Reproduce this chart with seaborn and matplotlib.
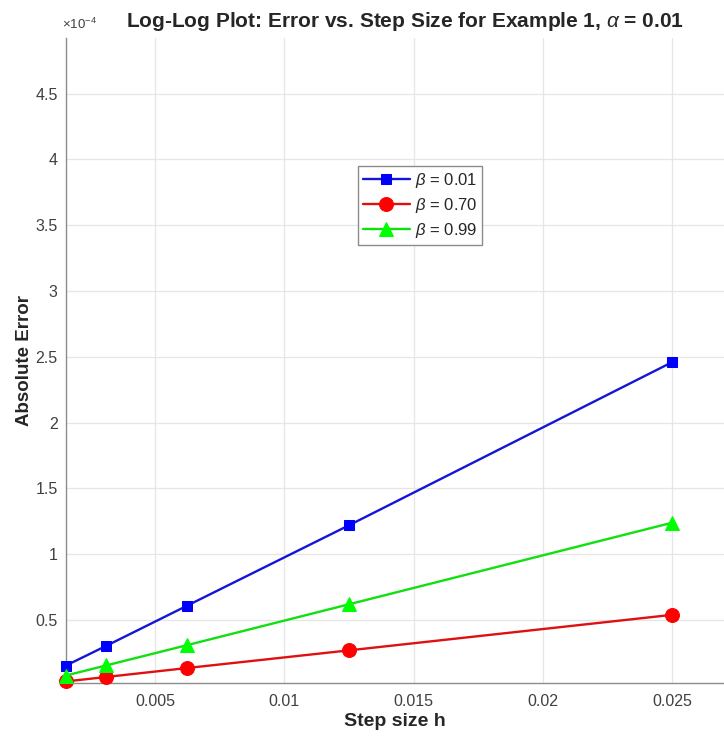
import matplotlib
matplotlib.use("Agg")
import matplotlib.pyplot as plt
import seaborn as sns
import pandas as pd
from matplotlib.ticker import FixedLocator

# ---- data ----
step_h = [0.0015625, 0.003125, 0.00625, 0.0125, 0.025]
err_beta_001 = [1.55e-5, 3.05e-5, 6.1e-5, 1.22e-4, 2.46e-4]
err_beta_070 = [3.4e-6, 6.8e-6, 1.36e-5, 2.7e-5, 5.4e-5]
err_beta_099 = [7.9e-6, 1.56e-5, 3.1e-5, 6.2e-5, 1.24e-4]
series_labels = [r"$\beta$ = 0.01", r"$\beta$ = 0.70", r"$\beta$ = 0.99"]
x_ticks = [0.005, 0.01, 0.015, 0.02, 0.025]
x_tick_labels = ["0.005", "0.01", "0.015", "0.02", "0.025"]
y_ticks = [0.5e-4, 1e-4, 1.5e-4, 2e-4, 2.5e-4, 3e-4, 3.5e-4, 4e-4, 4.5e-4]
y_tick_labels = ["0.5", "1", "1.5", "2", "2.5", "3", "3.5", "4", "4.5"]

sns.set_theme(style="whitegrid")
plt.rcParams["font.family"] = ["Liberation Sans", "DejaVu Sans"]
plt.rcParams["mathtext.fontset"] = "custom"
plt.rcParams["mathtext.it"] = "Liberation Sans:italic"
plt.rcParams["mathtext.rm"] = "Liberation Sans"

fig = plt.figure(figsize=(7.24, 7.36), dpi=100)
ax = fig.add_axes([0.0912, 0.072, 0.9088, 0.876])

styles = [
    dict(color="#1515d6", mfc="#0000ff", mec="#0000ff", marker="s", ms=7.5),
    dict(color="#e01010", mfc="#ff0000", mec="#ff0000", marker="o", ms=10),
    dict(color="#10e010", mfc="#00ff00", mec="#00ff00", marker="^", ms=10.5),
]
for vals, lab, st in zip([err_beta_001, err_beta_070, err_beta_099], series_labels, styles):
    df = pd.DataFrame({"h": step_h, "err": vals})
    sns.lineplot(data=df, x="h", y="err", ax=ax, label=lab, color=st["color"],
                 marker=st["marker"], markersize=st["ms"], markerfacecolor=st["mfc"],
                 markeredgecolor=st["mec"], linewidth=1.7, clip_on=False, zorder=3)

ax.set_xlim(0.0015625, 0.027)
ax.set_ylim(0.022e-4, 4.92e-4)
ax.xaxis.set_major_locator(FixedLocator(x_ticks))
ax.set_xticklabels(x_tick_labels)
ax.yaxis.set_major_locator(FixedLocator(y_ticks))
ax.set_yticklabels(y_tick_labels)

ax.grid(True, color="#e6e6e6", linewidth=0.9)
ax.set_facecolor("white")
for s in ["top", "right"]:
    ax.spines[s].set_visible(False)
for s in ["left", "bottom"]:
    ax.spines[s].set_color("#8c8c8c")
    ax.spines[s].set_linewidth(1.0)
ax.tick_params(axis="both", colors="#8c8c8c", labelcolor="#404040", labelsize=11.5,
               length=4, width=0.8, direction="in")
ax.tick_params(axis="x", pad=8)
ax.tick_params(axis="y", pad=6)

ax.set_xlabel("Step size h", fontsize=14, fontweight="bold", color="#262626", labelpad=3)
ax.set_ylabel("Absolute Error", fontsize=13.5, fontweight="bold", color="#262626", labelpad=2)
ax.set_title(r"Log-Log Plot: Error vs. Step Size for Example 1, $\alpha$ = 0.01",
             fontsize=15, fontweight="bold", color="#262626", pad=8, x=0.515)
fig.text(0.0856, 0.957, r"$\times10^{-4}$", fontsize=9.5, color="#404040", ha="left", va="bottom")

leg = ax.legend(loc="upper left", bbox_to_anchor=(0.431, 0.815), fontsize=12,
                frameon=True, fancybox=False, edgecolor="#8c8c8c", framealpha=1,
                handlelength=2.8, borderpad=0.3, labelspacing=0.35, handletextpad=0.3)
leg.get_frame().set_linewidth(1.0)

fig.savefig("out.png", dpi=100)
